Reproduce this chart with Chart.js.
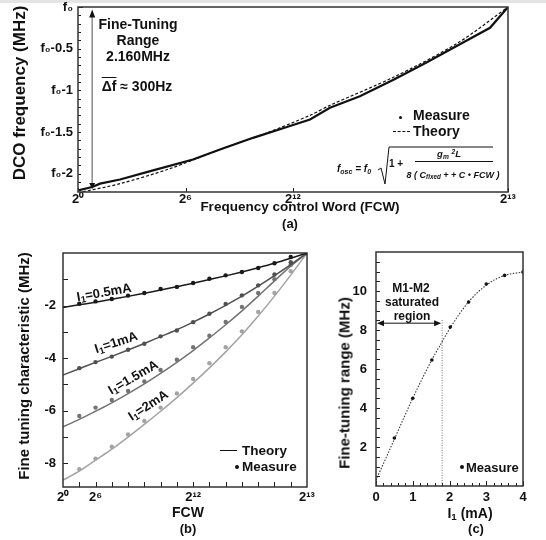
<!DOCTYPE html>
<html>
<head>
<meta charset="utf-8">
<script src="https://cdn.jsdelivr.net/npm/chart.js@4.4.0/dist/chart.umd.min.js"></script>
<style>
  html, body { margin: 0; padding: 0; background: #fff; }
  #page { position: relative; width: 546px; height: 540px; overflow: hidden; font-family: 'Liberation Sans', Arial, sans-serif; color: #111; }
  canvas { position: absolute; }
  .t { position: absolute; font-weight: bold; white-space: nowrap; transform: translate(-50%, -50%); line-height: 1; }
  .l { position: absolute; font-weight: bold; white-space: nowrap; transform: translateY(-50%); line-height: 1; }
  .rot { transform: translate(-50%, -50%) rotate(-90deg); }
  .dot { position: absolute; width: 4px; height: 4px; border-radius: 50%; background: #111; }
  sub { font-size: 70%; vertical-align: -0.25em; line-height: 0; }
  sup { font-size: 70%; vertical-align: 0.45em; line-height: 0; }
  .it { font-style: italic; }
</style>
</head>
<body>
<div id="page">
  <div style="position:absolute;left:0;top:0;width:546px;height:3px;background:#e4e4e4"></div>
  <canvas id="chartA" width="546" height="212" style="left:0;top:0"></canvas>
  <canvas id="chartB" width="330" height="268" style="left:0;top:245px"></canvas>
  <canvas id="chartC" width="216" height="268" style="left:330px;top:245px"></canvas>

  <!-- (a) texts -->
  <div class="t rot" style="left:19px;top:93px;font-size:17px">DCO frequency (MHz)</div>
  <div class="t" style="left:300px;top:207px;font-size:13.5px">Frequency control Word (FCW)</div>
  <div class="t" style="left:290px;top:223px;font-size:13px">(a)</div>
  <div class="t" style="left:138px;top:24px;font-size:14px">Fine-Tuning</div>
  <div class="t" style="left:138px;top:40px;font-size:14px">Range</div>
  <div class="t" style="left:138px;top:56px;font-size:14px">2.160MHz</div>
  <div class="t" style="left:137px;top:86px;font-size:14px"><span style="text-decoration:overline">Δf</span> ≈ 300Hz</div>
  <div class="dot" style="left:399px;top:116px;width:3px;height:3px"></div>
  <div class="l" style="left:413px;top:115px;font-size:14px">Measure</div>
  <div style="position:absolute;left:393px;top:131px;width:17px;border-top:1px dashed #111"></div>
  <div class="l" style="left:413px;top:131px;font-size:14px">Theory</div>
  <div class="l it" style="left:337px;top:169px;font-size:10px">f<sub>osc</sub> = f<sub>0</sub></div>
  <svg style="position:absolute;left:374px;top:144px" width="122" height="46">
    <polyline points="4,26 7,24 11,40 15,3 119,3" fill="none" stroke="#111" stroke-width="1"/>
  </svg>
  <div class="l" style="left:389px;top:164px;font-size:10px">1 +</div>
  <div class="t it" style="left:449px;top:154px;font-size:9.5px">g<sub>m</sub> <sup>2</sup>L</div>
  <div style="position:absolute;left:415px;top:161px;width:78px;border-top:1px solid #111"></div>
  <div class="t it" style="left:453px;top:175px;font-size:9px">8 ( C<sub>fixed</sub> + + C • FCW )</div>

  <!-- (b) texts -->
  <div class="t rot" style="left:23px;top:366px;font-size:15px">Fine tuning characteristic (MHz)</div>
  <div class="t" style="left:188px;top:512px;font-size:14px">FCW</div>
  <div class="t" style="left:188px;top:528px;font-size:13px">(b)</div>
  <div class="t" style="left:104px;top:292px;font-size:13px;transform:translate(-50%,-50%) rotate(-10deg)">I<sub>1</sub>=0.5mA</div>
  <div class="t" style="left:116px;top:342px;font-size:13px;transform:translate(-50%,-50%) rotate(-18deg)">I<sub>1</sub>=1mA</div>
  <div class="t" style="left:133px;top:377px;font-size:13px;transform:translate(-50%,-50%) rotate(-30deg)">I<sub>1</sub>=1.5mA</div>
  <div class="t" style="left:148px;top:405px;font-size:13px;transform:translate(-50%,-50%) rotate(-33deg)">I<sub>1</sub>=2mA</div>
  <div style="position:absolute;left:220px;top:450px;width:17px;border-top:1.5px solid #111"></div>
  <div class="l" style="left:242px;top:451px;font-size:13.5px">Theory</div>
  <div class="dot" style="left:235px;top:465px"></div>
  <div class="l" style="left:242px;top:467px;font-size:13.5px">Measure</div>

  <!-- (c) texts -->
  <div class="t rot" style="left:344px;top:383px;font-size:15px">Fine-tuning range (MHz)</div>
  <div class="t" style="left:470px;top:513px;font-size:14px">I<sub>1</sub> (mA)</div>
  <div class="t" style="left:476px;top:528px;font-size:13px">(c)</div>
  <div class="t" style="left:411px;top:288px;font-size:12px">M1-M2</div>
  <div class="t" style="left:412px;top:302px;font-size:12px">saturated</div>
  <div class="t" style="left:412px;top:316px;font-size:12px">region</div>
  <div class="dot" style="left:460px;top:465px"></div>
  <div class="l" style="left:466px;top:467px;font-size:13px">Measure</div>
</div>

<script>
// (a) DCO frequency vs FCW, offset from f0 in MHz
const fcwMeasA = [0, 270, 420, 800, 1430, 2190, 2705, 3335, 3980, 4420, 4800, 5370, 6020, 6630, 7240, 7850, 8192];
const freqMeasA = [-2.20, -2.16, -2.12, -2.07, -1.96, -1.83, -1.71, -1.57, -1.44, -1.35, -1.21, -1.07, -0.87, -0.67, -0.46, -0.25, 0];
const fcwTheoA = [0, 800, 1750, 2705, 3640, 4420, 4800, 6020, 7240, 8192];
const freqTheoA = [-2.23, -2.12, -1.94, -1.71, -1.50, -1.30, -1.18, -0.84, -0.43, 0];
const xTickValsA = [0, 2048, 4096, 8192];
const xTickLabelsA = ['2⁰', '2⁶', '2¹²', '2¹³'];
const yTickValsA = [0, -0.5, -1, -1.5, -2];
const yTickLabelsA = ['f₀', 'f₀-0.5', 'f₀-1', 'f₀-1.5', 'f₀-2'];
const arrowFcwA = 270, arrowLowA = -2.16, arrowHighA = -0.03;

// (b) fine tuning characteristic for four bias currents
const stepsB = [0, 1, 2, 3, 4, 5, 6, 7, 8, 9, 10, 11, 12, 13, 14, 15];
const measStepsB = [1, 2, 3, 4, 5, 6, 7, 8, 9, 10, 11, 12, 13, 14, 15];
const theory05 = [-2.07, -1.97, -1.87, -1.76, -1.65, -1.53, -1.41, -1.28, -1.15, -1.01, -0.87, -0.72, -0.56, -0.39, -0.2, 0];
const theory1 = [-4.64, -4.40, -4.16, -3.93, -3.69, -3.44, -3.18, -2.92, -2.63, -2.32, -1.99, -1.64, -1.26, -0.86, -0.44, 0];
const theory15 = [-6.61, -6.33, -6.02, -5.70, -5.35, -4.98, -4.58, -4.16, -3.71, -3.23, -2.73, -2.20, -1.64, -1.06, -0.50, 0];
const theory2 = [-8.64, -8.30, -7.88, -7.46, -7.00, -6.52, -6.02, -5.50, -4.95, -4.37, -3.76, -3.11, -2.40, -1.64, -0.84, 0];
const meas05 = [-1.93, -1.84, -1.75, -1.62, -1.52, -1.37, -1.29, -1.14, -0.98, -0.85, -0.72, -0.57, -0.39, -0.15, 0];
const meas1 = [-4.38, -4.15, -3.94, -3.68, -3.45, -3.17, -2.95, -2.63, -2.31, -1.94, -1.61, -1.23, -0.82, -0.35, 0];
const meas15 = [-6.20, -5.88, -5.59, -5.25, -4.89, -4.45, -4.06, -3.58, -3.15, -2.62, -2.05, -1.52, -1.00, -0.45, 0];
const meas2 = [-8.22, -7.82, -7.37, -6.90, -6.39, -5.88, -5.34, -4.79, -4.19, -3.58, -2.98, -2.24, -1.52, -0.69, 0];
const xTickValsB = [0, 2, 8, 15];
const xTickLabelsB = ['2⁰', '2⁶', '2¹²', '2¹³'];
const yTickValsB = [-2, -4, -6, -8];

// (c) fine tuning range vs I1
const currentC = [0.5, 1, 1.52, 2.02, 2.52, 3, 3.5, 4];
const rangeC = [2.46, 4.5, 6.46, 8.15, 9.43, 10.36, 10.8, 10.97];
const fitCurrentC = [0, 0.5, 1, 1.5, 1.8, 2, 2.5, 3, 3.5, 4];
const fitRangeC = [0.3, 2.4, 4.5, 6.4, 7.4, 8.05, 9.4, 10.3, 10.8, 10.97];
const xTickValsC = [0, 1, 2, 3, 4];
const yTickValsC = [2, 4, 6, 8, 10];
const satCurrentC = 1.8, satTopC = 8.56, satArrowC = 8.35;

const tickFont = { family: "'Liberation Sans', Arial, sans-serif", weight: 'bold', size: 13 };

function pts(xs, ys) {
    return xs.map((x, i) => ({ x: x, y: ys[i] }));
}

function steps(from, to, step) {
    const out = [];
    for (let v = from; v <= to + 1e-9; v += step) out.push(Math.round(v * 1000) / 1000);
    return out;
}

// axis with fixed box size and hand-picked labelled ticks
function axis(min, max, size, vals, labels, pad) {
    return {
        type: 'linear',
        min: min,
        max: max,
        afterFit(s) {
            if (s.isHorizontal()) s.height = size; else s.width = size;
            // keep the plot box where the layout padding puts it
            s.paddingTop = 0; s.paddingBottom = 0; s.paddingLeft = 0; s.paddingRight = 0;
        },
        afterBuildTicks(s) {
            s.ticks = vals.map(v => ({ value: v }));
        },
        grid: { display: false, drawTicks: false },
        border: { display: false },
        ticks: {
            autoSkip: false,
            maxRotation: 0,
            color: '#111',
            font: tickFont,
            padding: pad,
            callback: (v) => {
                const i = vals.indexOf(v);
                return labels ? (labels[i] || '') : String(v);
            }
        }
    };
}

function arrowHead(ctx, x, y, dir, len, half) {
    ctx.beginPath();
    ctx.moveTo(x, y);
    if (dir === 'up') { ctx.lineTo(x - half, y + len); ctx.lineTo(x + half, y + len); }
    if (dir === 'down') { ctx.lineTo(x - half, y - len); ctx.lineTo(x + half, y - len); }
    if (dir === 'left') { ctx.lineTo(x + len, y - half); ctx.lineTo(x + len, y + half); }
    if (dir === 'right') { ctx.lineTo(x - len, y - half); ctx.lineTo(x - len, y + half); }
    ctx.closePath();
    ctx.fill();
}

// box frame, inward tick marks and per-chart extras
function frame(xTicks, yTicks, extra) {
    return {
        id: 'frame',
        afterDatasetsDraw(chart) {
            const { ctx, chartArea: a } = chart;
            const sx = chart.scales.x, sy = chart.scales.y;
            ctx.save();
            if (extra) extra(ctx, sx, sy, a);
            ctx.strokeStyle = '#222';
            ctx.lineWidth = 1;
            ctx.setLineDash([]);
            xTicks.forEach(([vals, len]) => vals.forEach(v => {
                const px = Math.round(sx.getPixelForValue(v)) + 0.5;
                ctx.beginPath(); ctx.moveTo(px, a.bottom); ctx.lineTo(px, a.bottom - len); ctx.stroke();
            }));
            yTicks.forEach(([vals, len]) => vals.forEach(v => {
                const py = Math.round(sy.getPixelForValue(v)) + 0.5;
                ctx.beginPath(); ctx.moveTo(a.left, py); ctx.lineTo(a.left + len, py); ctx.stroke();
            }));
            ctx.strokeStyle = '#333';
            ctx.lineWidth = 1.5;
            ctx.strokeRect(a.left, a.top, a.width, a.height);
            ctx.restore();
        }
    };
}

const baseOptions = (padding) => ({
    responsive: false,
    animation: false,
    layout: { padding: padding },
    plugins: { legend: { display: false }, tooltip: { enabled: false } }
});

// ---- chart (a)
const optsA = baseOptions({ top: 7, right: 38, left: 0, bottom: 0 });
optsA.scales = {
    x: axis(0, 8192, 20, xTickValsA, xTickLabelsA, 0),
    y: axis(-2.22, 0, 78, yTickValsA, yTickLabelsA, 5)
};
new Chart(document.getElementById('chartA'), {
    type: 'line',
    data: {
        datasets: [
            { label: 'Theory', data: pts(fcwTheoA, freqTheoA), borderColor: '#111', borderWidth: 1.2, borderDash: [3, 2], pointRadius: 0, tension: 0.3 },
            { label: 'Measure', data: pts(fcwMeasA, freqMeasA), borderColor: '#111', borderWidth: 2.2, pointRadius: 0, tension: 0 }
        ]
    },
    options: optsA,
    plugins: [frame(
        [[xTickValsA, 4]],
        [[steps(-2, 0, 0.5).map(v => -v), 5], [steps(0.1, 2.2, 0.1).map(v => -v), 3]],
        (ctx, sx, sy) => {
            const x = sx.getPixelForValue(arrowFcwA);
            const y1 = sy.getPixelForValue(arrowLowA);
            const y2 = sy.getPixelForValue(arrowHighA);
            ctx.strokeStyle = '#8a8a8a';
            ctx.lineWidth = 1.5;
            ctx.beginPath(); ctx.moveTo(x, y1); ctx.lineTo(x, y2 + 4); ctx.stroke();
            ctx.fillStyle = '#111';
            arrowHead(ctx, x, y2, 'up', 8, 3);
            arrowHead(ctx, x, y1 + 2, 'down', 6, 3);
        }
    )]
});

// ---- chart (b)
const seriesB = [
    { name: 'I1=0.5mA', theory: theory05, meas: meas05, color: '#1a1a1a' },
    { name: 'I1=1mA', theory: theory1, meas: meas1, color: '#505050' },
    { name: 'I1=1.5mA', theory: theory15, meas: meas15, color: '#737373' },
    { name: 'I1=2mA', theory: theory2, meas: meas2, color: '#a3a3a3' }
];
const datasetsB = [];
seriesB.forEach(s => {
    datasetsB.push({ label: s.name + ' theory', data: pts(stepsB, s.theory), borderColor: s.color, borderWidth: 1.5, pointRadius: 0, tension: 0.4, cubicInterpolationMode: 'monotone' });
    datasetsB.push({ label: s.name + ' measure', data: pts(measStepsB, s.meas), showLine: false, pointRadius: 2.2, pointBackgroundColor: s.color, pointBorderWidth: 0 });
});
const optsB = baseOptions({ top: 8, right: 23, left: 0, bottom: 0 });
optsB.scales = {
    x: axis(0, 15, 26, xTickValsB, xTickLabelsB, 3),
    y: axis(-8.9, 0, 63, yTickValsB, null, 7)
};
new Chart(document.getElementById('chartB'), {
    type: 'line',
    data: { datasets: datasetsB },
    options: optsB,
    plugins: [frame(
        [[steps(1, 14, 1), 5]],
        [[steps(1, 8, 1).map(v => -v), 5]]
    )]
});

// ---- chart (c)
const optsC = baseOptions({ top: 7, right: 23, left: 0, bottom: 0 });
optsC.scales = {
    x: axis(0, 4, 27, xTickValsC, null, 4),
    y: axis(0, 12, 46, yTickValsC, null, 9)
};
new Chart(document.getElementById('chartC'), {
    type: 'line',
    data: {
        datasets: [
            { label: 'Measure', data: pts(currentC, rangeC), showLine: false, pointRadius: 1.8, pointBackgroundColor: '#111', pointBorderWidth: 0 },
            { label: 'Fit', data: pts(fitCurrentC, fitRangeC), borderColor: '#333', borderWidth: 1.1, borderDash: [1.5, 1.5], pointRadius: 0, tension: 0.4, cubicInterpolationMode: 'monotone' }
        ]
    },
    options: optsC,
    plugins: [frame(
        [[steps(0.2, 3.8, 0.2), 3], [xTickValsC, 5]],
        [[steps(0.5, 11.5, 0.5), 4]],
        (ctx, sx, sy) => {
            const xs = sx.getPixelForValue(satCurrentC);
            const x0 = sx.getPixelForValue(0);
            const yBot = sy.getPixelForValue(0);
            const yTop = sy.getPixelForValue(satTopC);
            const ya = sy.getPixelForValue(satArrowC);
            ctx.strokeStyle = '#777';
            ctx.lineWidth = 1;
            ctx.setLineDash([1, 1.5]);
            ctx.beginPath(); ctx.moveTo(xs, yBot); ctx.lineTo(xs, yTop); ctx.stroke();
            ctx.setLineDash([]);
            ctx.strokeStyle = '#111';
            ctx.beginPath(); ctx.moveTo(x0 + 4, ya); ctx.lineTo(xs - 4, ya); ctx.stroke();
            ctx.fillStyle = '#111';
            arrowHead(ctx, x0 + 1, ya, 'left', 7, 3);
            arrowHead(ctx, xs - 1, ya, 'right', 7, 3);
        }
    )]
});
</script>
</body>
</html>
